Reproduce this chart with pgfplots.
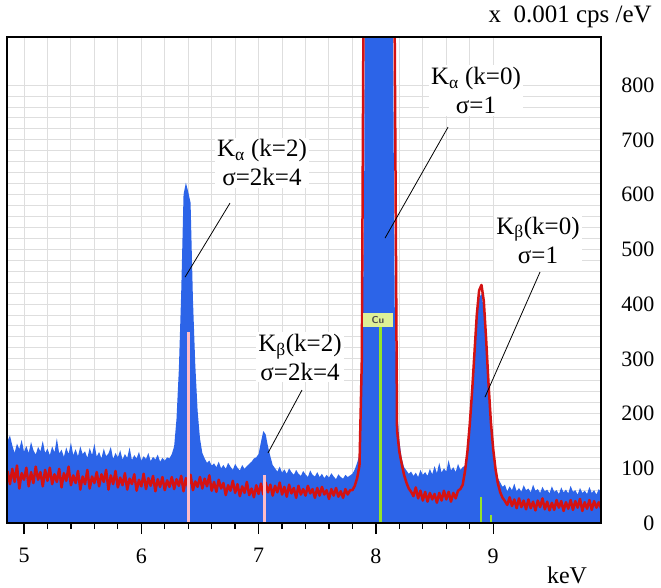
\documentclass[border=0pt]{standalone}
\usepackage{fontspec}
\setmainfont{Liberation Serif}
\usepackage{pgfplots}
\pgfplotsset{compat=1.18}
\usepackage{pgfplotstable}
\definecolor{specblue}{RGB}{44,100,232}
\definecolor{specred}{RGB}{212,18,18}
\definecolor{markpink}{RGB}{255,188,198}
\definecolor{markgreen}{RGB}{150,228,40}
\definecolor{cuyel}{RGB}{222,240,150}
\definecolor{gridgray}{RGB}{222,222,222}

\pgfplotstableread{
x B R
4.86 150 95
4.88 160 71
4.90 142 99
4.92 128 75
4.94 145 105
4.96 135 63
4.98 152 91
5.00 130 79
5.02 141 101
5.04 128 67
5.06 148 93
5.08 133 73
5.10 125 103
5.12 139 79
5.14 131 93
5.16 150 67
5.18 128 97
5.20 136 77
5.22 124 101
5.24 140 71
5.26 129 89
5.28 155 75
5.30 127 99
5.32 134 65
5.34 121 91
5.36 138 77
5.38 126 103
5.40 147 69
5.42 124 87
5.44 135 73
5.46 122 95
5.48 140 61
5.50 126 85
5.52 131 71
5.54 119 97
5.56 137 63
5.58 124 85
5.60 145 73
5.62 121 93
5.64 130 67
5.66 118 89
5.68 136 75
5.70 122 97
5.72 127 61
5.74 139 87
5.76 117 71
5.78 128 95
5.80 120 65
5.82 133 83
5.84 116 69
5.86 126 91
5.88 119 61
5.90 138 81
5.92 115 71
5.94 124 89
5.96 118 59
5.98 130 79
6.00 114 67
6.02 122 90
6.04 117 62
6.06 128 82
6.08 113 68
6.10 121 86
6.12 116 58
6.14 125 80
6.16 112 66
6.18 119 84
6.20 114 60
6.22 120 78
6.24 118 66
6.26 126 84
6.28 140 62
6.30 190 80
6.32 280 68
6.34 420 86
6.36 600 58
6.38 622 82
6.40 605 64
6.42 585 88
6.44 410 60
6.46 290 76
6.48 205 66
6.50 155 84
6.52 128 63
6.54 118 81
6.56 110 67
6.58 114 87
6.60 105 59
6.62 109 75
6.64 102 57
6.66 112 79
6.68 100 63
6.70 106 73
6.72 99 51
6.74 110 69
6.76 103 59
6.78 97 77
6.80 108 55
6.82 101 71
6.84 96 49
6.86 106 67
6.88 99 55
6.90 104 75
6.92 108 51
6.94 112 63
6.96 118 47
6.98 120 69
7.00 126 53
7.02 148 72
7.04 168 52
7.06 162 74
7.08 140 56
7.10 122 70
7.12 106 50
7.14 100 68
7.16 94 56
7.18 103 74
7.20 92 52
7.22 98 66
7.24 90 48
7.26 100 70
7.28 93 54
7.30 88 64
7.32 97 46
7.34 90 68
7.36 86 52
7.38 95 62
7.40 89 50
7.42 84 68
7.44 96 54
7.46 88 62
7.48 85 46
7.50 93 64
7.52 84 50
7.54 90 66
7.56 82 52
7.58 88 60
7.60 83 44
7.62 91 62
7.64 85 50
7.66 80 64
7.68 89 48
7.70 84 58
7.72 81 46
7.74 88 62
7.76 84 52
7.78 87 60
7.80 90 60
7.82 98 68
7.84 110 82
7.86 125 105
7.88 220 300
7.90 600 1200
7.92 2000 2200
7.94 2500 2600
7.96 2800 2900
7.98 3000 3100
8.00 3100 3200
8.02 3150 3250
8.04 3100 3200
8.06 3000 3100
8.08 2800 2900
8.10 2500 2600
8.12 2100 2200
8.14 1100 1600
8.16 400 900
8.18 210 170
8.20 150 130
8.22 118 108
8.24 102 88
8.26 96 74
8.28 90 63
8.30 94 57
8.32 86 49
8.34 92 65
8.36 84 45
8.38 97 59
8.40 88 41
8.42 93 57
8.44 86 39
8.46 99 55
8.48 89 43
8.50 104 53
8.52 91 37
8.54 110 55
8.56 92 41
8.58 100 59
8.60 94 43
8.62 115 57
8.64 96 39
8.66 102 55
8.68 93 45
8.70 108 59
8.72 97 62
8.74 102 70
8.76 105 95
8.78 125 130
8.80 170 180
8.82 230 240
8.84 300 310
8.86 370 380
8.88 410 425
8.90 420 435
8.92 390 405
8.94 320 335
8.96 240 255
8.98 170 185
9.00 125 135
9.02 100 98
9.04 82 72
9.06 74 56
9.08 66 46
9.10 70 40
9.12 58 33
9.14 67 47
9.16 60 31
9.18 72 43
9.20 58 27
9.22 64 45
9.24 57 29
9.26 69 41
9.28 60 25
9.30 63 43
9.32 56 27
9.34 70 39
9.36 59 23
9.38 62 41
9.40 55 29
9.42 66 45
9.44 58 25
9.46 61 39
9.48 54 23
9.50 67 37
9.52 57 24
9.54 60 42
9.56 53 28
9.58 65 40
9.60 56 22
9.62 61 38
9.64 54 26
9.66 68 42
9.68 57 24
9.70 60 40
9.72 52 28
9.74 64 44
9.76 55 22
9.78 59 38
9.80 53 26
9.82 66 42
9.84 55 24
9.86 60 40
9.88 52 28
9.90 62 38
9.92 56 26
}\spec

\begin{document}
\fontsize{25bp}{29bp}\selectfont
\begin{tikzpicture}
\useasboundingbox (-7bp,-65bp) rectangle (654bp,523bp);
\begin{axis}[
  at={(0,0)}, anchor=south west,
  scale only axis, width=594bp, height=486bp,
  xmin=4.855, xmax=9.919, ymin=0, ymax=888,
  xtick={5,6,7,8,9}, minor x tick num=4,
  ytick={0,100,...,800}, minor y tick num=4,
  grid=both,
  major grid style={gridgray, line width=1bp},
  minor grid style={gridgray, line width=1bp},
  xtick pos=left, tick align=outside,
  major tick length=11bp, minor tick length=6bp,
  xtick style={black, line width=1.3bp},
  ytick pos=right, yticklabel pos=right,
  ytick style={draw=none},
  yticklabel style={anchor=east, xshift=51bp},
  xticklabel style={yshift=-6bp},
  axis line style={black, line width=1.5bp},
  every tick label/.append style={font=\fontsize{22bp}{26bp}\selectfont},
  /pgf/number format/assume math mode=true,
]
\addplot[fill=specblue, draw=none] table[x=x, y=B]{\spec} \closedcycle;
\addplot[color=specred, line width=2.5bp, line join=round] table[x=x, y=R]{\spec};
\addplot[color=markpink, line width=2.6bp] coordinates {(6.40,0) (6.40,349)};
\addplot[color=markpink, line width=2.6bp] coordinates {(7.05,0) (7.05,88)};
\addplot[color=markgreen, line width=3bp] coordinates {(8.035,0) (8.035,358)};
\addplot[color=markgreen, line width=2bp] coordinates {(8.896,0) (8.896,47)};
\addplot[color=markgreen, line width=2.4bp] coordinates {(8.98,0) (8.98,15)};

\node[fill=cuyel, text=gray!60!black, font=\sffamily\bfseries\fontsize{10bp}{12bp}\selectfont,
      minimum width=30bp, minimum height=14bp, inner sep=0pt] at (axis cs:8.018,370) {Cu};

\draw[black, line width=0.8bp] (axis cs:6.756,584.5) -- (axis cs:6.373,449.3);
\draw[black, line width=0.8bp] (axis cs:7.370,243) -- (axis cs:7.080,127.9);
\draw[black, line width=0.8bp] (axis cs:8.615,723.3) -- (axis cs:8.078,520.6);
\draw[black, line width=0.8bp] (axis cs:9.399,458.5) -- (axis cs:8.930,230);

\node[fill=white, align=center, inner sep=2bp] at (axis cs:7.029,658) {K\textsubscript{α} (k=2)\\σ=2k=4};
\node[fill=white, align=center, inner sep=2bp] at (axis cs:7.353,303) {K\textsubscript{β}(k=2)\\σ=2k=4};
\node[fill=white, align=center, inner sep=2bp] at (axis cs:8.853,790) {K\textsubscript{α} (k=0)\\σ=1};
\node[fill=white, align=center, inner sep=2bp] at (axis cs:9.382,517) {K\textsubscript{β}(k=0)\\σ=1};
\end{axis}
\draw[black, line width=1.5bp] (0,0) rectangle (594bp,486bp);
\node[anchor=east, inner sep=0pt] at (645bp,506bp) {x\ \ 0.001 cps /eV};
\node[inner sep=0pt, font=\fontsize{24bp}{28bp}\selectfont] at (560bp,-52bp) {keV};
\end{tikzpicture}
\end{document}
